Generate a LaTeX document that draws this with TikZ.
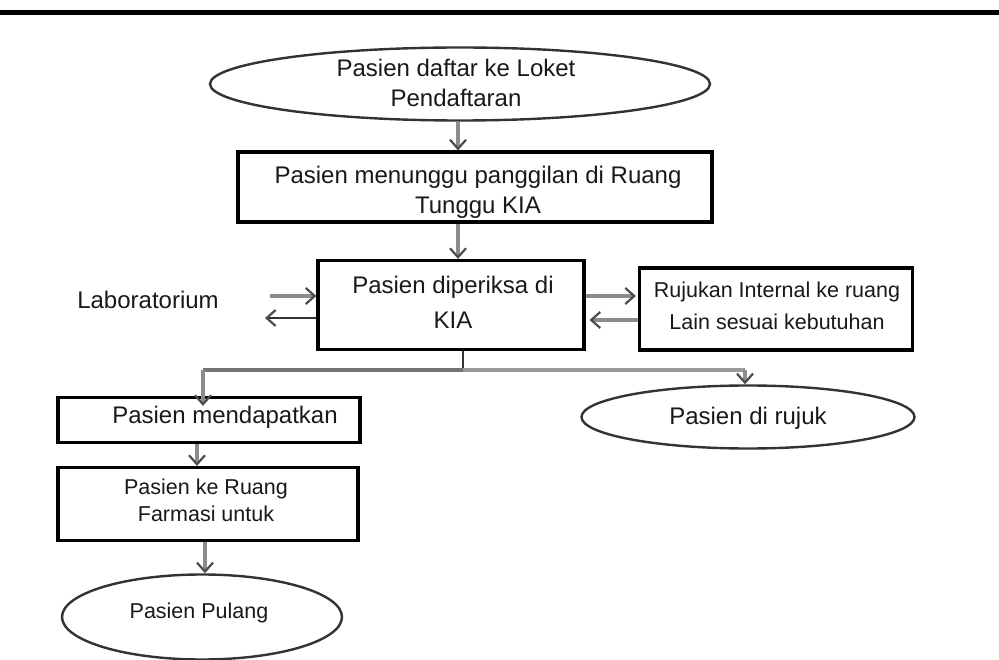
\documentclass[tikz,border=0pt]{standalone}
\usepackage{fontspec}
\setmainfont{Liberation Sans}
\usetikzlibrary{shapes.geometric,arrows.meta}
\begin{document}
\begin{tikzpicture}[x=1pt,y=-1pt,
  every node/.style={font=\fontsize{24}{30}\selectfont, text=black!90, align=center, inner sep=0pt},
  smallt/.style={font=\fontsize{21.5}{27}\selectfont},
  boxn/.style={draw=black, line width=3.2pt, rectangle},
  ovaln/.style={draw=black!80, line width=2.4pt, ellipse},
  tipv/.tip={Straight Barb[length=9pt,width=16pt,line width=2.2pt,color=black!70]},
  garrow/.style={draw=black!45, line width=4.5pt, -tipv},
  darrow/.style={draw=black!80, line width=1.8pt, -tipv},
  gline/.style={draw=black!55, line width=4.5pt}
]
\useasboundingbox (0,0) rectangle (999,660);
\fill[white] (0,0) rectangle (999,660);
\coordinate (tl) at (0,13);
\coordinate (tr) at (999,13);
\draw[line width=5pt] (tl) -- (tr);

\node[ovaln, minimum width=500pt, minimum height=73pt] (e1) at (460,84) {};
\node (e1t) at (456,83) {Pasien daftar ke Loket\\Pendaftaran};

\node[boxn, minimum width=474pt, minimum height=70pt] (b2) at (475,187) {};
\node (b2t) at (478,192) {Pasien menunggu panggilan di Ruang\\Tunggu KIA};

\node[boxn, minimum width=266pt, minimum height=89pt] (b3) at (451,305) {};
\node[font=\fontsize{24}{35}\selectfont] (b3t) at (453,302) {Pasien diperiksa di\\KIA};

\node (lab) at (148,300) {Laboratorium};

\node[boxn, minimum width=273pt, minimum height=82pt] (b4) at (776,309) {};
\node[smallt, font=\fontsize{21.5}{32}\selectfont] (b4t) at (777,306) {Rujukan Internal ke ruang\\Lain sesuai kebutuhan};

\node[boxn, minimum width=302pt, minimum height=45pt] (b5) at (209,420) {};
\node (b5t) at (225,417) {Pasien mendapatkan};

\node[ovaln, minimum width=333pt, minimum height=63pt] (e2) at (748,417) {};
\node (e2t) at (748,418) {Pasien di rujuk};

\node[boxn, minimum width=300pt, minimum height=73pt] (b6) at (208,504) {};
\node[smallt] (b6t) at (206,500) {Pasien ke Ruang\\Farmasi untuk};

\node[ovaln, minimum width=280pt, minimum height=85pt] (e3) at (202,617) {};
\node[smallt] (e3t) at (199,613) {Pasien Pulang};

% vertical arrows
\draw[garrow] (e1.south -| 458,0) -- (b2.north -| 458,0);
\draw[garrow] (b2.south -| 458,0) -- (b3.north -| 458,0);

% lab arrows
\coordinate (labin) at (270,296);
\coordinate (labout) at (265,318);
\draw[garrow] (labin) -- (b3.west |- 0,296);
\draw[darrow] (b3.west |- 0,318) -- (labout);

% right box arrows
\draw[garrow] (b3.east |- 0,296) -- ([xshift=-2pt]b4.west |- 0,296);
\draw[garrow] (b4.west |- 0,320) -- ([xshift=4pt]b3.east |- 0,320);

% split
\coordinate (sp) at (463,370);
\coordinate (spl) at (203,370);
\coordinate (spr) at (745,370);
\draw[draw=black!80, line width=1.8pt] (b3.south -| sp) -- (sp);
\draw[gline] (spl) -- (sp);
\draw[draw=black!40, line width=4.5pt] (sp) -- (spr);
\draw[garrow] (spl) -- ([yshift=-10pt]b5.north -| spl);
\draw[garrow] (spr) -- (e2.north -| spr);

\draw[garrow] (b5.south -| 197,0) -- (b6.north -| 197,0);
\draw[garrow] (b6.south -| 205,0) -- (e3.north -| 205,0);
\end{tikzpicture}
\end{document}
